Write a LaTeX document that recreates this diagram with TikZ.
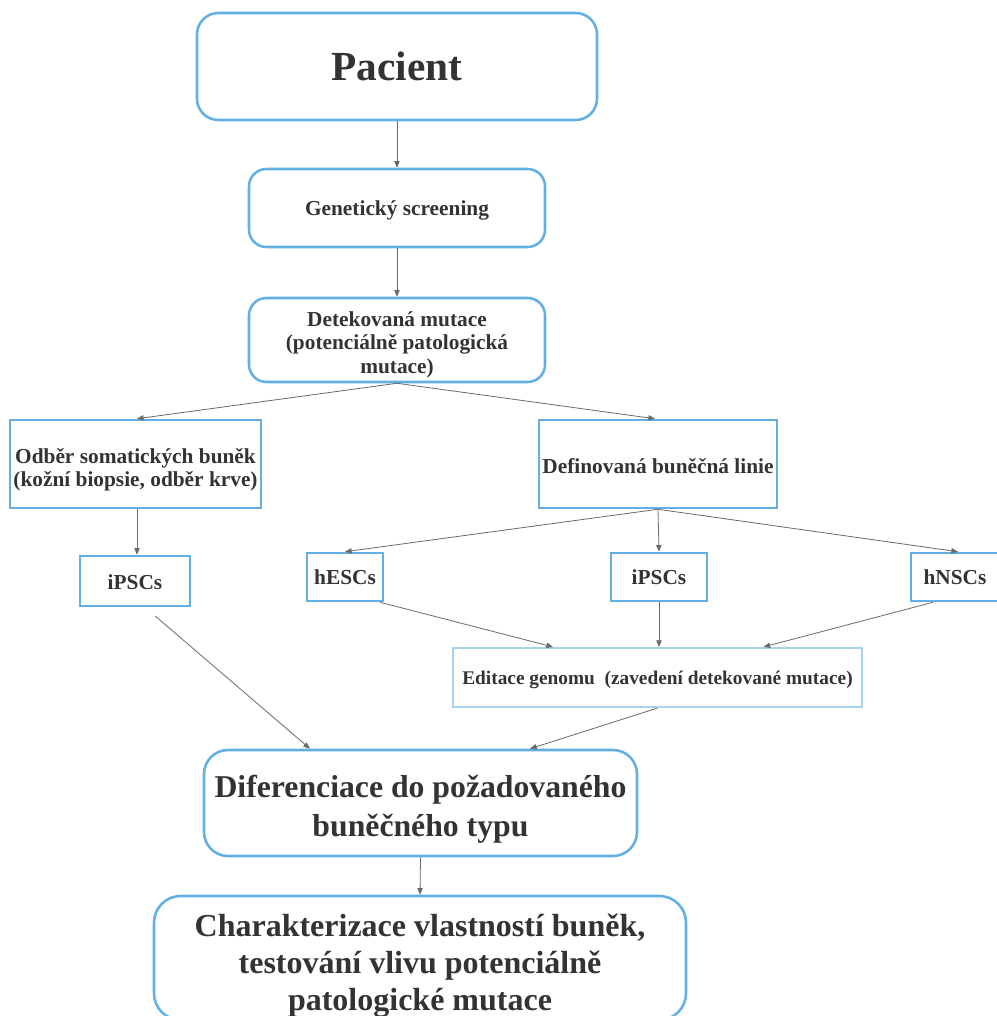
\documentclass[tikz,border=0pt]{standalone}
\usepackage{fontspec}
\setmainfont{Liberation Serif}
\usetikzlibrary{arrows.meta,calc}
\definecolor{bblue}{HTML}{62B0E3}
\definecolor{lblue}{HTML}{A8D3F0}
\definecolor{txt}{HTML}{333333}
\definecolor{arrc}{HTML}{6A6A6A}
\begin{document}
\begin{tikzpicture}[x=0.75pt,y=-0.75pt,
  rbox/.style={draw=bblue, line width=1.9pt, rounded corners=13pt, inner sep=0pt},
  sbox/.style={draw=bblue, line width=1.9pt, inner sep=0pt},
  lbl/.style={align=center, text=txt, inner sep=0pt},
  fmid/.style={font=\bfseries\fontsize{16}{17.6}\selectfont},
  arr/.style={draw=arrc, line width=0.6pt, -{Triangle[length=5pt,width=4pt]}}]
\useasboundingbox (0,0) rectangle (996,1016);
\fill[white] (0,0) rectangle (996,1016);

\node[rbox, rounded corners=16pt, minimum width=300pt, minimum height=80.25pt,
  label={[name=pact, lbl, font=\bfseries\fontsize{31}{36}\selectfont]center:Pacient}] (pac) at (397,66.5) {};
\node[rbox, minimum width=222pt, minimum height=58.5pt,
  label={[name=gent, lbl, fmid, yshift=-2pt]center:Genetický screening}] (gen) at (397,208) {};
\node[rbox, minimum width=222pt, minimum height=63pt,
  label={[name=dett, lbl, fmid, yshift=-3.5pt]center:{Detekovaná mutace\\(potenciálně patologická\\mutace)}}] (det) at (397,340) {};
\node[sbox, minimum width=188.25pt, minimum height=66pt,
  label={[name=odbt, lbl, fmid, yshift=-4.5pt]center:{Odběr somatických buněk\\(kožní biopsie, odběr krve)}}] (odb) at (135.5,464) {};
\node[sbox, minimum width=178.5pt, minimum height=66pt,
  label={[name=deft, lbl, fmid, yshift=-1.5pt]center:Definovaná buněčná linie}] (def) at (658,464) {};
\node[sbox, minimum width=82.5pt, minimum height=37.5pt,
  label={[name=iplt, lbl, fmid, yshift=-1pt]center:iPSCs}] (ipl) at (135,581) {};
\node[sbox, minimum width=57pt, minimum height=36pt,
  label={[name=hest, lbl, fmid]center:hESCs}] (hes) at (345,577) {};
\node[sbox, minimum width=72pt, minimum height=36pt,
  label={[name=ipmt, lbl, fmid]center:iPSCs}] (ipm) at (659,577) {};
\node[sbox, minimum width=66pt, minimum height=36pt,
  label={[name=hnst, lbl, fmid]center:hNSCs}] (hns) at (955,577) {};
\node[sbox, draw=lblue, line width=1.6pt, minimum width=306.75pt, minimum height=44.25pt,
  label={[name=edit, lbl, font=\bfseries\fontsize{14.5}{17}\selectfont, yshift=-1.5pt]center:{Editace genomu\ \ (zavedení detekované mutace)}}] (edi) at (657.5,677.5) {};
\node[rbox, rounded corners=18pt, minimum width=324.75pt, minimum height=79.5pt,
  label={[name=dift, lbl, font=\bfseries\fontsize{23.8}{29.3}\selectfont, yshift=-5pt]center:{Diferenciace do požadovaného\\buněčného typu}}] (dif) at (420.5,803) {};
\node[rbox, rounded corners=20pt, minimum width=399pt, minimum height=93pt,
  label={[name=chat, lbl, font=\bfseries\fontsize{24}{27.8}\selectfont, yshift=-6pt]center:{Charakterizace vlastností buněk,\\testování vlivu potenciálně\\patologické mutace}}] (cha) at (420,958) {};

\draw[arr] (pac.south) -- (gen.north);
\draw[arr] (gen.south) -- (det.north);
\draw[arr] (det.south) -- ($(odb.north)+(1.5,0)$);
\draw[arr] (det.south) -- ($(def.north)+(-3,0)$);
\draw[arr] ($(odb.south)+(1.5,0)$) -- ($(ipl.north)+(2,0)$);
\draw[arr] (def.south) -- (hes.north);
\draw[arr] (def.south) -- (ipm.north);
\draw[arr] (def.south) -- ($(hns.north)+(3,0)$);
\draw[arr] ($(hes.south)+(35,0)$) -- ($(edi.north)+(-104.5,0)$);
\draw[arr] (ipm.south) -- (ipm.south |- edi.north);
\draw[arr] ($(hns.south)+(-22,0)$) -- ($(edi.north)+(106,0)$);
\draw[arr, shorten <=10pt] ($(ipl.south)+(10,0)$) -- ($(dif.north)+(-110.5,0)$);
\draw[arr] (edi.south) -- ($(dif.north)+(109.5,0)$);
\draw[arr] (dif.south) -- (cha.north);
\end{tikzpicture}
\end{document}
